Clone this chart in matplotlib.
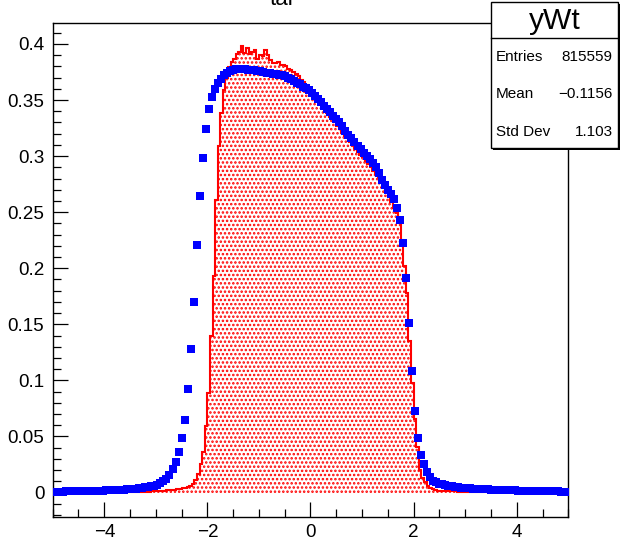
import numpy as np
import matplotlib
matplotlib.use('Agg')
import matplotlib.pyplot as plt
from matplotlib.patches import Rectangle
from matplotlib.lines import Line2D
from matplotlib.ticker import MultipleLocator

plt.rcParams['font.family'] = ['Liberation Sans', 'DejaVu Sans']
plt.rcParams['hatch.linewidth'] = 1.2
plt.rcParams['hatch.color'] = '#ff0000'

# ---------------- data ----------------
x_min, x_max = -5.0, 5.0
red_nbins = 200
blue_nbins = 170

red_values = [
    0.0001, 0.0001, 0.0001, 0.0001, 0.0001, 0.0001, 0.0001, 0.0001, 0.0001, 0.0001,
    0.0001, 0.0001, 0.0001, 0.0001, 0.0001, 0.0001, 0.0001, 0.0001, 0.0001, 0.0001,
    0.0002, 0.0002, 0.0002, 0.0002, 0.0002, 0.0002, 0.0002, 0.0002, 0.0002, 0.0002,
    0.0002, 0.0003, 0.0004, 0.0005, 0.0006, 0.0007, 0.0008, 0.0009, 0.0010, 0.0011,
    0.0012, 0.0013, 0.0015, 0.0017, 0.0019, 0.0021, 0.0024, 0.0027, 0.0031, 0.0036,
    0.0042, 0.0045, 0.0052, 0.0062, 0.0080, 0.0110, 0.0165, 0.0254, 0.0359, 0.0595,
    0.0890, 0.1396, 0.1930, 0.2610, 0.3090, 0.3380, 0.3590, 0.3700, 0.3790, 0.3840,
    0.3870, 0.3910, 0.3930, 0.3980, 0.3920, 0.3960, 0.3910, 0.3930, 0.3950, 0.3870,
    0.3900, 0.3890, 0.3950, 0.3900, 0.3860, 0.3830, 0.3830, 0.3840, 0.3810, 0.3810,
    0.3800, 0.3780, 0.3765, 0.3750, 0.3730, 0.3710, 0.3680, 0.3660, 0.3630, 0.3610,
    0.3580, 0.3550, 0.3520, 0.3490, 0.3460, 0.3420, 0.3380, 0.3350, 0.3330, 0.3300,
    0.3270, 0.3240, 0.3210, 0.3180, 0.3160, 0.3130, 0.3100, 0.3070, 0.3040, 0.3010,
    0.2990, 0.2960, 0.2930, 0.2900, 0.2870, 0.2840, 0.2810, 0.2770, 0.2730, 0.2690,
    0.2640, 0.2590, 0.2540, 0.2490, 0.2410, 0.2256, 0.2019, 0.1780, 0.1350, 0.0975,
    0.0655, 0.0403, 0.0204, 0.0130, 0.0095, 0.0060, 0.0042, 0.0030, 0.0022, 0.0018,
    0.0016, 0.0015, 0.0014, 0.0013, 0.0012, 0.0011, 0.0010, 0.0009, 0.0008, 0.0007,
    0.0006, 0.0006, 0.0005, 0.0005, 0.0004, 0.0004, 0.0003, 0.0003, 0.0003, 0.0002,
    0.0002, 0.0002, 0.0002, 0.0002, 0.0002, 0.0002, 0.0002, 0.0002, 0.0002, 0.0002,
    0.0001, 0.0001, 0.0001, 0.0001, 0.0001, 0.0001, 0.0001, 0.0001, 0.0001, 0.0001,
    0.0001, 0.0001, 0.0001, 0.0001, 0.0001, 0.0001, 0.0001, 0.0001, 0.0001, 0.0001,
]

blue_values = [
    0.0008, 0.0008, 0.0009, 0.0009, 0.0010, 0.0010, 0.0011, 0.0011, 0.0012, 0.0012,
    0.0013, 0.0014, 0.0014, 0.0015, 0.0016, 0.0017, 0.0018, 0.0019, 0.0020, 0.0021,
    0.0022, 0.0024, 0.0025, 0.0027, 0.0029, 0.0031, 0.0033, 0.0036, 0.0039, 0.0043,
    0.0047, 0.0051, 0.0055, 0.0060, 0.0070, 0.0085, 0.0100, 0.0125, 0.0160, 0.0210,
    0.0270, 0.0360, 0.0490, 0.0650, 0.0920, 0.1280, 0.1700, 0.2210, 0.2640, 0.2980,
    0.3240, 0.3420, 0.3526, 0.3600, 0.3650, 0.3690, 0.3720, 0.3745, 0.3760, 0.3770,
    0.3775, 0.3780, 0.3780, 0.3775, 0.3770, 0.3770, 0.3765, 0.3760, 0.3755, 0.3750,
    0.3745, 0.3740, 0.3735, 0.3730, 0.3725, 0.3720, 0.3710, 0.3700, 0.3685, 0.3670,
    0.3655, 0.3640, 0.3620, 0.3605, 0.3585, 0.3560, 0.3535, 0.3510, 0.3480, 0.3450,
    0.3420, 0.3390, 0.3360, 0.3330, 0.3300, 0.3270, 0.3225, 0.3190, 0.3160, 0.3125,
    0.3090, 0.3060, 0.3030, 0.3000, 0.2970, 0.2940, 0.2900, 0.2850, 0.2790, 0.2740,
    0.2700, 0.2660, 0.2620, 0.2540, 0.2430, 0.2227, 0.1915, 0.1515, 0.1088, 0.0723,
    0.0483, 0.0335, 0.0254, 0.0180, 0.0136, 0.0106, 0.0092, 0.0080, 0.0072, 0.0065,
    0.0060, 0.0056, 0.0052, 0.0048, 0.0045, 0.0042, 0.0040, 0.0038, 0.0036, 0.0034,
    0.0032, 0.0030, 0.0029, 0.0028, 0.0027, 0.0026, 0.0025, 0.0024, 0.0023, 0.0022,
    0.0021, 0.0020, 0.0019, 0.0018, 0.0017, 0.0016, 0.0016, 0.0015, 0.0014, 0.0014,
    0.0013, 0.0012, 0.0012, 0.0011, 0.0011, 0.0010, 0.0010, 0.0009, 0.0009, 0.0008,
]

title_text = "tar"
stats_name = "yWt"
stats_labels = ["Entries", "Mean", "Std Dev"]
stats_values = ["815559", "\u22120.1156", "1.103"]

x_ticks = [-4, -2, 0, 2, 4]
x_tick_labels = ["\u22124", "\u22122", "0", "2", "4"]
y_ticks = [0.0, 0.05, 0.10, 0.15, 0.20, 0.25, 0.30, 0.35, 0.40]
y_tick_labels = ["0", "0.05", "0.1", "0.15", "0.2", "0.25", "0.3", "0.35", "0.4"]
y_range = (-0.0218, 0.4184)

# ---------------- figure ----------------
W, H = 620, 541
fig = plt.figure(figsize=(W / 100, H / 100), dpi=100)
fig.patch.set_facecolor('white')

def fx(px):
    return px / W

def fy(py):
    return 1 - py / H

ax_l, ax_r, ax_t, ax_b = 52.7, 568.3, 23.3, 517.0
ax = fig.add_axes([fx(ax_l), fy(ax_b), fx(ax_r) - fx(ax_l), fy(ax_t) - fy(ax_b)])

red_edges = np.linspace(x_min, x_max, red_nbins + 1)
blue_edges = np.linspace(x_min, x_max, blue_nbins + 1)
blue_centers = 0.5 * (blue_edges[:-1] + blue_edges[1:])

ax.stairs(red_values, red_edges, fill=True, facecolor='none',
          edgecolor='#ff0000', hatch='....', linewidth=0, zorder=1)
ax.stairs(red_values, red_edges, color='#ff0000', linewidth=1.5, zorder=2)
ax.plot(blue_centers, blue_values, linestyle='none', marker='s',
        markersize=6.0, color='#0000ff', markeredgewidth=0, zorder=3)

ax.set_xlim(x_min, x_max)
ax.set_ylim(*y_range)
ax.set_xticks(x_ticks, x_tick_labels)
ax.set_yticks(y_ticks, y_tick_labels)
ax.xaxis.set_minor_locator(MultipleLocator(0.5))
ax.yaxis.set_minor_locator(MultipleLocator(0.01))
ax.tick_params(which='both', direction='in', top=False, right=False,
               width=0.9, labelsize=13.6, colors='black')
ax.tick_params(which='major', length=10.8)
ax.tick_params(which='minor', length=5.6)
ax.tick_params(axis='x', which='major', pad=5)
ax.tick_params(axis='y', which='major', pad=6)
for s in ax.spines.values():
    s.set_linewidth(1.0)

# title (mostly outside the top of the canvas, as in the reference)
fig.text(fx(283), fy(5), title_text, ha='center', va='baseline', fontsize=16)

# stats box
bx_l, bx_r, bx_t, bx_b, bx_div = 491, 618, 2, 148, 37.7
shadow = Rectangle((fx(bx_l + 2), fy(bx_b + 2)), fx(bx_r) - fx(bx_l), fy(bx_t) - fy(bx_b),
                   transform=fig.transFigure, facecolor='black', edgecolor='none', zorder=4)
fig.add_artist(shadow)
box = Rectangle((fx(bx_l), fy(bx_b)), fx(bx_r) - fx(bx_l), fy(bx_t) - fy(bx_b),
                transform=fig.transFigure, facecolor='white', edgecolor='black',
                linewidth=1.0, zorder=5)
fig.add_artist(box)
fig.add_artist(Line2D([fx(bx_l), fx(bx_r)], [fy(bx_div), fy(bx_div)],
                      transform=fig.transFigure, color='black', linewidth=1.0, zorder=6))
fig.text(fx((bx_l + bx_r) / 2), fy(21), stats_name, ha='center', va='center',
         fontsize=21.6, zorder=7)
row_y = [57.3, 94.0, 131.7]
for lab, val, yy in zip(stats_labels, stats_values, row_y):
    fig.text(fx(496), fy(yy), lab, ha='left', va='center', fontsize=11, zorder=7)
    fig.text(fx(612.5), fy(yy), val, ha='right', va='center', fontsize=11, zorder=7)

fig.savefig('out.png', dpi=100, facecolor='white')
